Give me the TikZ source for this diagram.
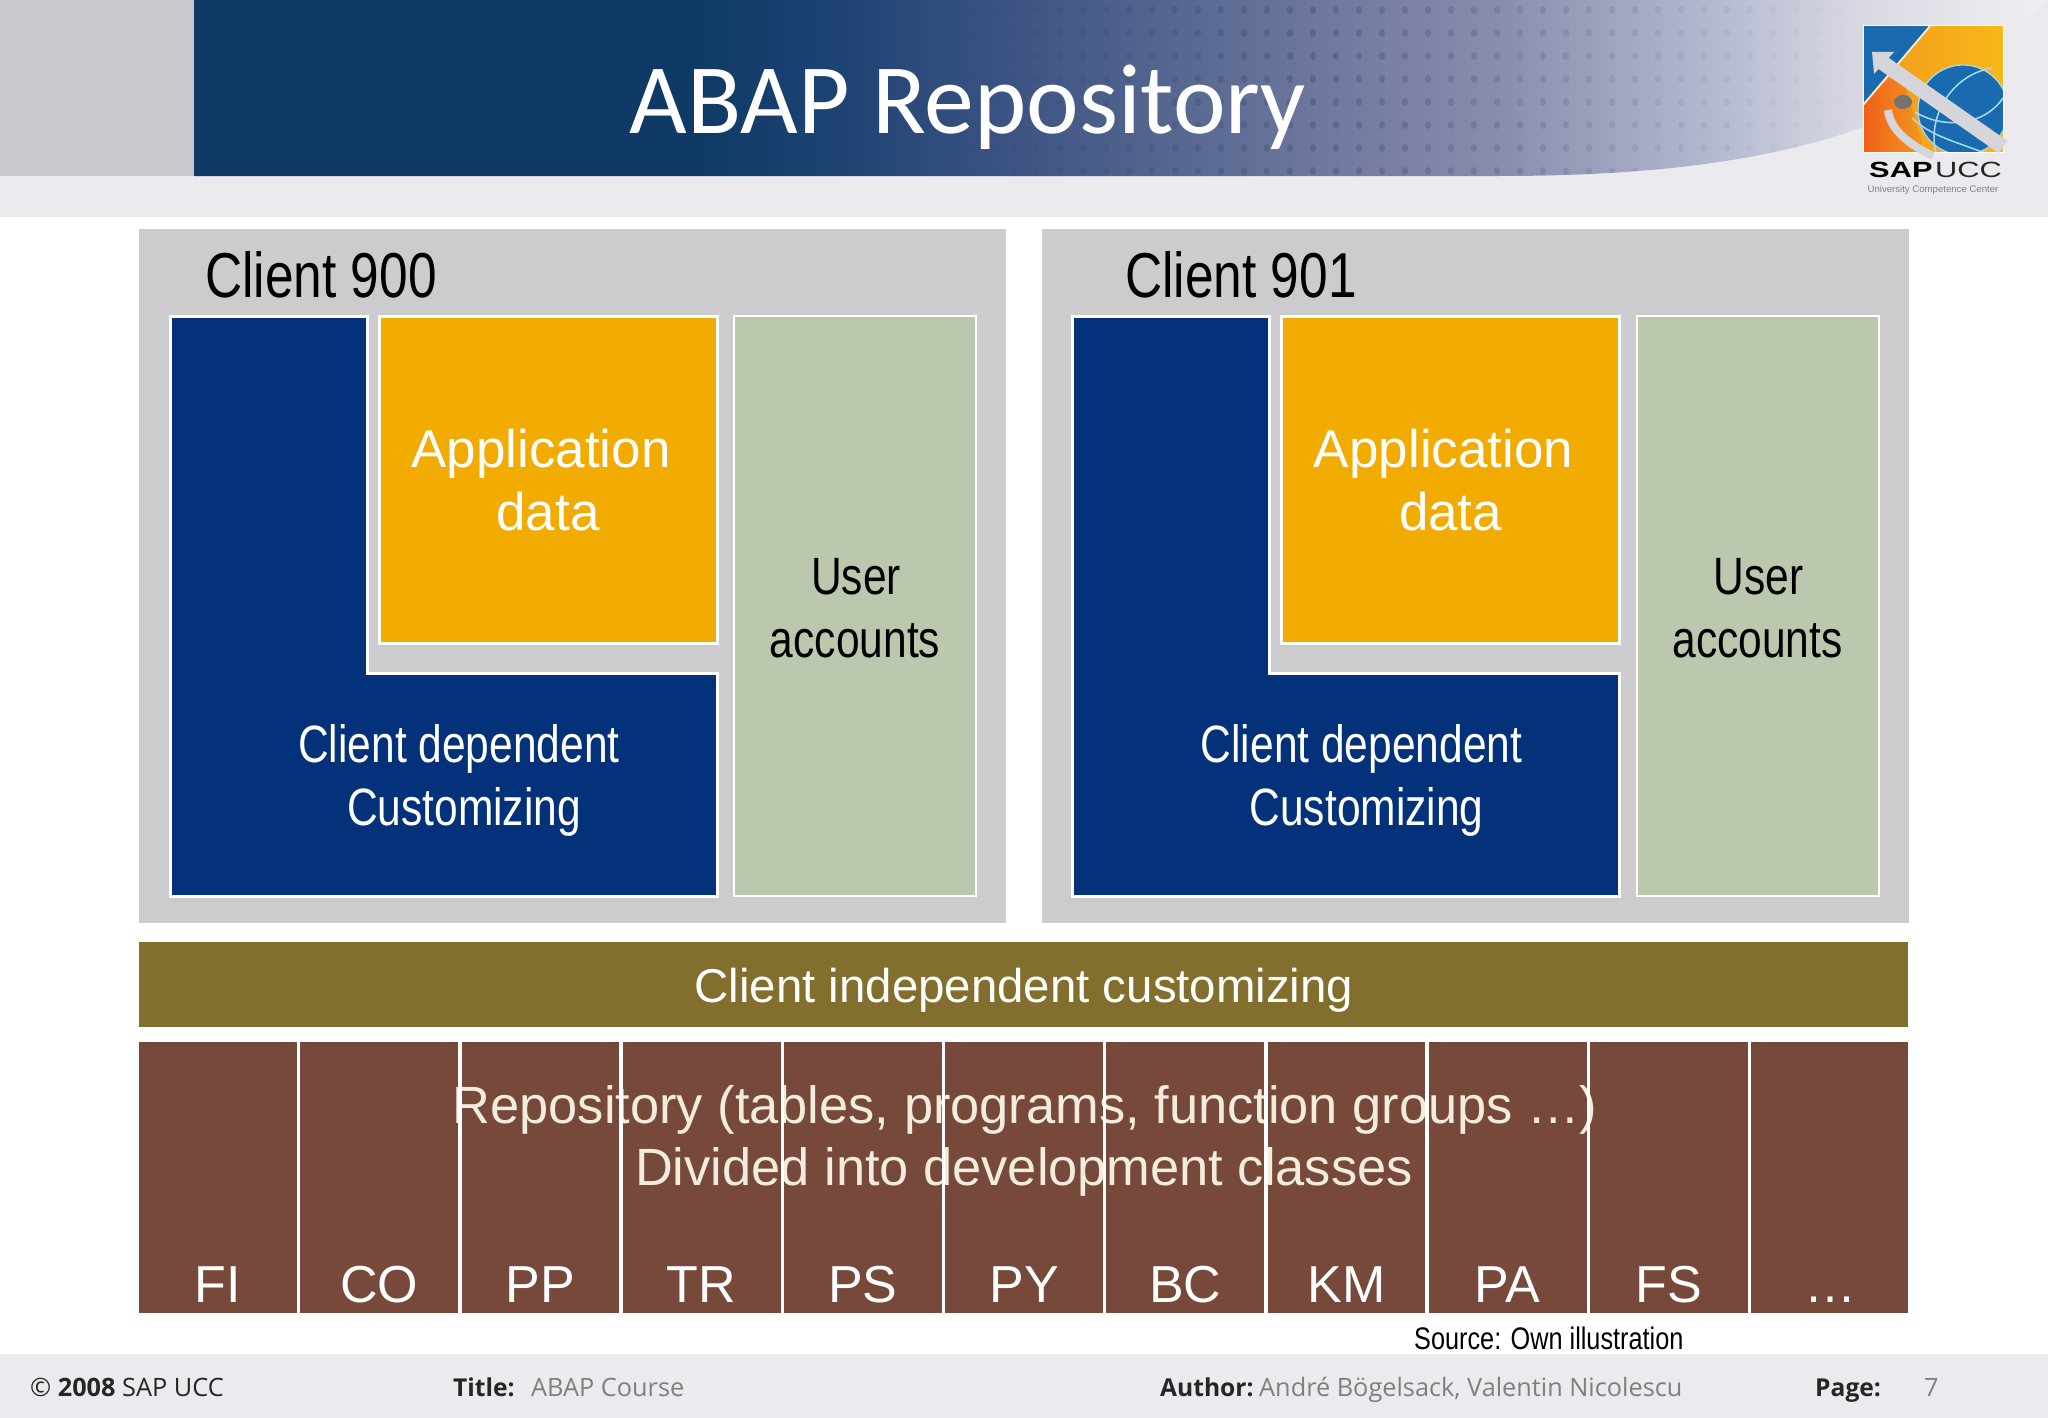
\documentclass[tikz,border=0pt]{standalone}
\usepackage{fontspec}
\usepackage{xcolor}
\usepackage{tikz}
\usetikzlibrary{calc,positioning}

\setmainfont{Liberation Sans}
\newfontfamily\slimfont[FakeStretch=0.81]{Liberation Sans}
\newfontfamily\logofont[FakeStretch=1.4]{Liberation Sans}
\newfontfamily\headfont{Carlito}
\newfontfamily\footfont{Open Sans}

\definecolor{headbg}{HTML}{EBEBEF}
\definecolor{headgray}{HTML}{C8C9CC}
\definecolor{boxgray}{HTML}{CCCBCE}
\definecolor{sapblue}{HTML}{03327A}
\definecolor{sapyellow}{HTML}{F2AB00}
\definecolor{sapgreen}{HTML}{BCC8AD}
\definecolor{sapolive}{HTML}{826F2D}
\definecolor{sapbrown}{HTML}{77493A}
\definecolor{sapcream}{HTML}{F2ECDC}
\definecolor{footgray}{HTML}{7F7F7F}
\definecolor{logoblue}{HTML}{1A6AB0}
\definecolor{logored}{HTML}{F0601A}
\definecolor{logoorange}{HTML}{F29A1E}
\definecolor{logoyellow}{HTML}{F8B818}
\definecolor{logogray}{HTML}{D6D6DA}
\definecolor{logosky}{HTML}{A8DCF4}
\definecolor{bandA}{HTML}{0E3A64}
\definecolor{bandB}{HTML}{0F3A66}
\definecolor{bandC}{HTML}{1F4474}
\definecolor{bandD}{HTML}{3A5282}
\definecolor{bandE}{HTML}{5A6A92}
\definecolor{bandF}{HTML}{7C80A6}
\definecolor{bandG}{HTML}{8A8CAC}
\definecolor{bandH}{HTML}{B0B6CF}
\definecolor{bandI}{HTML}{D8D8E2}
\definecolor{bandJ}{HTML}{F0F0F3}

\pgfdeclarehorizontalshading{bandshade}{100bp}{
  color(0bp)=(bandA); color(25bp)=(bandA); color(38.6bp)=(bandB); color(42.7bp)=(bandC);
  color(46.7bp)=(bandD); color(52.1bp)=(bandE); color(57.5bp)=(bandF);
  color(60.2bp)=(bandG); color(65.6bp)=(bandH); color(69.9bp)=(bandI); color(75bp)=(bandJ); color(100bp)=(bandJ)}

\tikzset{
  lbl/.style={inner sep=0pt,anchor=base,text=white},
  lblleft/.style={inner sep=0pt,anchor=base west},
  big/.style={font=\slimfont\fontsize{52.5}{53}\selectfont},
  repotext/.style={lbl,text=sapcream,font=\fontsize{52.4}{53}\selectfont},
  appfont/.style={font=\fontsize{53}{53}\selectfont},
  foot/.style={lblleft,font=\footfont\fontsize{25.3}{26}\selectfont,text=footgray},
  footb/.style={lblleft,font=\footfont\bfseries\fontsize{24.6}{26}\selectfont,text=black!85}
}

\begin{document}
\begin{tikzpicture}[x=1pt,y=-1pt]
  \useasboundingbox (0,0) rectangle (2048,1418);

  % header
  \fill[headbg] (0,0) rectangle (2048,217);
  \fill[headgray] (0,0) rectangle (194,176);
  \shade[shading=bandshade] (194,0) -- (194,176) -- (1500,176)
    .. controls (1790,176) and (1950,120) .. (2046,0) -- cycle;
  \begin{scope}
    \clip (194,0) -- (194,176) -- (1500,176)
      .. controls (1790,176) and (1950,120) .. (2046,0) -- cycle;
    \foreach \a in {0,...,38}
      \foreach \b in {0,...,7} {
        \pgfmathsetmacro{\dotop}{\a<15 ? 0.02+\a*0.013 : max(0,0.215-(\a-15)*0.009)}
        \fill[black!50!bandD,opacity=\dotop] ({968+\a*23},{10+\b*23}) ellipse (3.2 and 4);
      }
  \end{scope}
  \node[lbl,font=\headfont\fontsize{99.6}{100}\selectfont] (title) at (968,134) {ABAP Repository};

  % logo
  \fill[logoblue] (1863,26) rectangle (2003,153);
  \shade[left color=logoorange,right color=logoyellow] (1930,26) -- (2003,26) -- (2003,153) -- (1863,153) -- (1863,105) -- cycle;
  \shade[left color=logored,right color=logoorange] (1863,105) -- (1863,153) -- (1925,153) -- (1905,85) -- (1889,78) -- cycle;
  \begin{scope}
    \clip (1863,26) rectangle (2003,153);
    \fill[logoblue] (1963,110) circle (45);
    \draw[logosky,line width=1.2] (1963,110) circle (45);
    \draw[logosky,line width=1.5] (1915,112) .. controls (1945,130) and (1985,125) .. (2003,98);
    \draw[logosky,line width=1.5] (1992,68) .. controls (1950,75) and (1925,120) .. (1937,157);
    \draw[logosky,line width=1.5] (1912,118) .. controls (1930,135) and (1950,140) .. (1985,153);
  \end{scope}
  \draw[white!80!logoorange,line width=1.8] (1930,26) -- (1863,105);
  \draw[white!60,line width=1] (1863,26) rectangle (2003,153);
  \draw[logogray,line width=15] (2003,147) -- (1883,63);
  \fill[logogray] (1872,52) -- (1894,52) -- (1874,74) -- cycle;
  \draw[logogray,line width=8] (1888,110) .. controls (1890,130) and (1910,145) .. (1933,156);
  \fill[black!55] (1903,102) ellipse (9 and 7);
  \node[lblleft,font=\logofont\bfseries\fontsize{22}{22}\selectfont,text=black] (logosap) at (1869,178) {SAP};
  \node[lblleft,font=\logofont\fontsize{22}{22}\selectfont,text=black!85] (logoucc) at (1935,178) {UCC};
  \node[lbl,font=\fontsize{9.6}{10}\selectfont,text=black!50] (logosub) at (1933,193) {University Competence Center};

  % the two clients
  \foreach \ox/\num in {0/900,902.6/901} {
    \begin{scope}[xshift=\ox pt]
      \fill[boxgray] (139,229) rectangle (1006,923);
      \filldraw[fill=sapblue,draw=white,line width=3] (170,316) -- (367,316) -- (367,673) -- (717,673) -- (717,896) -- (170,896) -- cycle;
      \filldraw[fill=sapyellow,draw=white,line width=3] (379,316) rectangle (717,643);
      \filldraw[fill=sapgreen,draw=white,line width=2] (734,316) rectangle (976,896);
      \node[lbl,appfont] (app\num) at (541,467.5) {Application};
      \node[lbl,appfont] (data\num) at (548,530.5) {data};
      \node[lbl,big,text=black] (user\num) at (856,594.5) {User};
      \node[lbl,big,text=black] (acc\num) at (855,657.5) {accounts};
      \node[lbl,big] (dep\num) at (459,762.5) {Client dependent};
      \node[lbl,big] (cust\num) at (464,825.5) {Customizing};
    \end{scope}
  }
  \node[lblleft,font=\slimfont\fontsize{63.5}{64}\selectfont,text=black] (c900) at (205,297.5) {Client 900};
  \node[lblleft,font=\slimfont\fontsize{63.5}{64}\selectfont,text=black] (c901) at (1125,297.5) {Client 901};

  % client independent
  \fill[sapolive] (139,942) rectangle (1908,1027);
  \node[lbl,font=\fontsize{47.4}{48}\selectfont] (indep) at (1024,1002) {Client independent customizing};

  % repository, white gaps go over the text
  \fill[sapbrown] (139,1042) rectangle (1908,1313);
  \node[repotext] (repo) at (1025,1123) {Repository (tables, programs, function groups …)};
  \node[repotext] (div) at (1024,1185.5) {Divided into development classes};
  \foreach \i/\mod in {0/FI,1/CO,2/PP,3/TR,4/PS,5/PY,6/BC,7/KM,8/PA,9/FS,10/…} {
    \node[lbl,font=\fontsize{52}{52}\selectfont] (mod\i) at ({218+\i*161.2},1302) {\mod};
  }
  \foreach \i in {1,...,10}
    \draw[white,line width=3.5] ({137.5+\i*161.2},1041) -- ({137.5+\i*161.2},1314);

  \node[lblleft,font=\slimfont\fontsize{31.2}{32}\selectfont,text=black] (source) at (1414,1349) {Source: Own illustration};

  % footer
  \fill[headbg] (0,1354) rectangle (2048,1418);
  \node[footb,font=\footfont\fontsize{25.3}{26}\selectfont] (copy) at (30,1396) {© \textbf{2008} SAP UCC};
  \node[footb] (titlekey) at (453,1396) {Title:};
  \node[foot] (titleval) at (531,1396) {ABAP Course};
  \node[footb] (authkey) at (1160,1396) {Author:};
  \node[foot] (authval) at (1259,1396) {André Bögelsack, Valentin Nicolescu};
  \node[footb] (pagekey) at (1815,1396) {Page:};
  \node[foot] (pageval) at (1924,1396) {7};
\end{tikzpicture}
\end{document}
